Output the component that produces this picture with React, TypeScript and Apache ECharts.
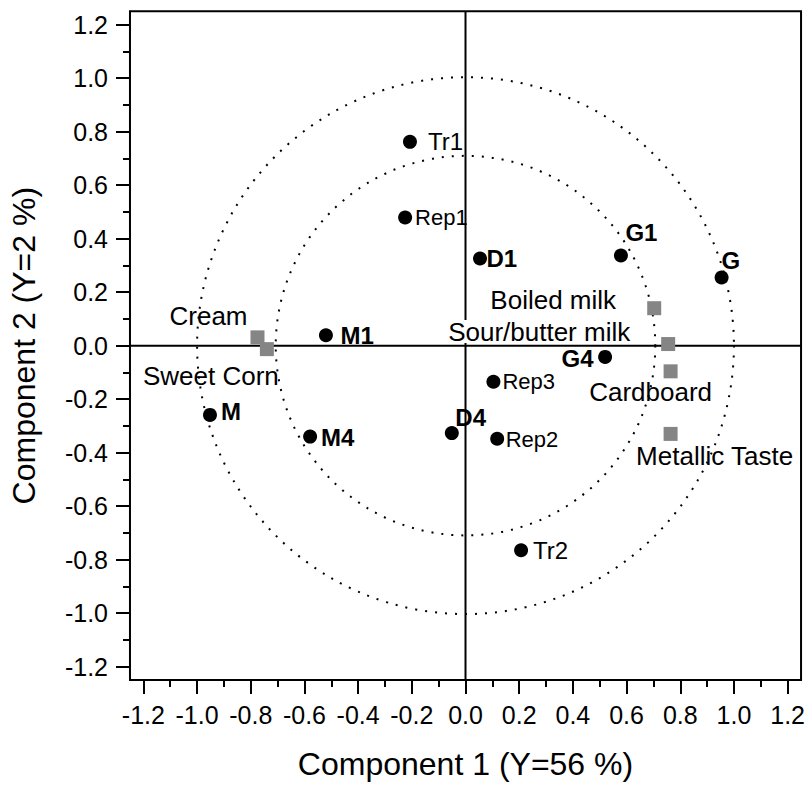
import React, { useEffect, useRef } from "react";
import * as echarts from "echarts";

// ---- Data ----
const sampleNames = ["Tr1", "Rep1", "D1", "G1", "G", "M1", "G4", "Rep3", "Rep2", "D4", "M", "M4", "Tr2"];
const sampleX = [-0.207, -0.225, 0.054, 0.579, 0.954, -0.52, 0.52, 0.104, 0.118, -0.051, -0.952, -0.579, 0.207];
const sampleY = [0.762, 0.479, 0.326, 0.337, 0.255, 0.039, -0.042, -0.135, -0.348, -0.327, -0.259, -0.34, -0.765];
const boldNames = ["D1", "G1", "G", "M1", "G4", "D4", "M", "M4"];

const attributeNames = ["Cream", "Sweet Corn", "Boiled milk", "Sour/butter milk", "Cardboard", "Metallic Taste"];
const attributeX = [-0.775, -0.74, 0.703, 0.755, 0.764, 0.764];
const attributeY = [0.031, -0.013, 0.14, 0.006, -0.096, -0.33];

const circleRadii = [1, 0.707];

const AXIS_MIN = -1.2;
const AXIS_MAX = 1.2;
const TICK_STEP = 0.2;
const FRAME_MIN = -1.25;
const FRAME_MAX = 1.25;

const xTitle = "Component 1 (Y=56 %)";
const yTitle = "Component 2 (Y=2 %)";

// ---- Label placement (pixel offsets from the marker centre) ----
const sampleLabelLayout: Record<string, [number, number, string]> = {
  Tr1: [18, 0, "left"],
  Rep1: [10, 0, "left"],
  D1: [6.5, 0, "left"],
  G1: [4.5, -23, "left"],
  G: [0, -17, "left"],
  M1: [14.5, 0, "left"],
  G4: [-11.5, 2, "right"],
  Rep3: [9, 0, "left"],
  Rep2: [8.5, 1, "left"],
  D4: [3.5, -16, "left"],
  M: [11, -3, "left"],
  M4: [11, 1, "left"],
  Tr2: [12, 0, "left"],
};
const attributeLabelLayout: Record<string, [number, number]> = {
  Cream: [-49, -21],
  "Sweet Corn": [-56, 27],
  "Boiled milk": [-101, -8],
  "Sour/butter milk": [-129, -12.5],
  Cardboard: [-20, 21],
  "Metallic Taste": [44, 22],
};

const FONT = "'Liberation Sans', Arial, Helvetica, sans-serif";
const DOT = 14;

export default function App() {
  const ref = useRef<HTMLDivElement>(null);
  useEffect(() => {
    if (!ref.current) return;
    const chart = echarts.init(ref.current, null, { renderer: "svg" });

    const sampleData = sampleNames.map((n, i) => {
      const [dx, dy, align] = sampleLabelLayout[n];
      const bold = boldNames.includes(n);
      return {
        name: n,
        value: [sampleX[i], sampleY[i]],
        label: {
          show: true,
          formatter: n,
          position: [DOT / 2 + dx, DOT / 2 + dy],
          align,
          verticalAlign: "middle",
          fontSize: n.startsWith("Rep") ? 22 : 24,
          fontWeight: bold ? "bold" : "normal",
          color: "#000",
          fontFamily: FONT,
        },
      };
    });

    const attributeData = attributeNames.map((n, i) => {
      const [dx, dy] = attributeLabelLayout[n];
      return {
        name: n,
        value: [attributeX[i], attributeY[i]],
        label: {
          show: true,
          formatter: n,
          position: [DOT / 2 + dx, DOT / 2 + dy],
          align: "center",
          verticalAlign: "middle",
          fontSize: 26,
          lineHeight: 23,
          color: "#000",
          fontFamily: FONT,
          backgroundColor: n === "Sour/butter milk" ? "#fff" : "transparent",
          padding: 0,
        },
      };
    });

    const axisCommon = {
      type: "value",
      min: AXIS_MIN,
      max: AXIS_MAX,
      interval: TICK_STEP,
      offset: 13.4,
      axisLine: { show: false, onZero: false },
      axisTick: { show: true, inside: false, length: 14, lineStyle: { color: "#000", width: 2 } },
      minorTick: { show: true, splitNumber: 2, length: 7, lineStyle: { color: "#000", width: 2 } },
      splitLine: { show: false },
      minorSplitLine: { show: false },
      nameLocation: "middle",
      nameTextStyle: { fontSize: 32, color: "#000", fontFamily: FONT },
    };

    const tickLabel = {
      fontSize: 25,
      color: "#000",
      margin: 22,
      fontFamily: FONT,
      formatter: (v: number) => v.toFixed(1),
    };

    chart.setOption({
      animation: false,
      backgroundColor: "#fff",
      textStyle: { fontFamily: FONT },
      grid: { left: 143.4, top: 24.7, width: 645.2, height: 645 },
      xAxis: { ...axisCommon, position: "bottom", name: xTitle, nameGap: 68, axisLabel: tickLabel },
      yAxis: { ...axisCommon, position: "left", name: yTitle, nameGap: 90, axisLabel: tickLabel },
      series: [
        {
          type: "custom",
          name: "frame",
          z: 1,
          silent: true,
          data: [[FRAME_MIN, FRAME_MAX, FRAME_MAX, FRAME_MIN]],
          renderItem: (_p: any, api: any) => {
            const a = api.coord([api.value(0), api.value(1)]);
            const b = api.coord([api.value(2), api.value(3)]);
            return {
              type: "rect",
              shape: { x: a[0], y: a[1], width: b[0] - a[0], height: b[1] - a[1] },
              style: { fill: "none", stroke: "#000", lineWidth: 2 },
            };
          },
        },
        {
          type: "custom",
          name: "zero lines",
          z: 1,
          silent: true,
          data: [
            [FRAME_MIN, 0, FRAME_MAX, 0],
            [0, FRAME_MIN, 0, FRAME_MAX],
          ],
          renderItem: (_p: any, api: any) => {
            const a = api.coord([api.value(0), api.value(1)]);
            const b = api.coord([api.value(2), api.value(3)]);
            return {
              type: "line",
              shape: { x1: a[0], y1: a[1], x2: b[0], y2: b[1] },
              style: { stroke: "#000", lineWidth: 2 },
            };
          },
        },
        {
          type: "custom",
          name: "correlation circles",
          z: 1,
          silent: true,
          data: circleRadii.map((r) => [0, 0, r]),
          renderItem: (_p: any, api: any) => {
            const c = api.coord([api.value(0), api.value(1)]);
            const r = api.size([api.value(2), 0])[0];
            return {
              type: "circle",
              shape: { cx: c[0], cy: c[1], r },
              style: { fill: "none", stroke: "#000", lineWidth: 2, lineDash: [2, 8] },
            };
          },
        },
        {
          type: "scatter",
          name: "attributes",
          z: 5,
          symbol: "rect",
          symbolSize: DOT,
          itemStyle: { color: "#858585", opacity: 1 },
          data: attributeData,
        },
        {
          type: "scatter",
          name: "samples",
          z: 5,
          symbol: "circle",
          symbolSize: DOT,
          itemStyle: { color: "#000", opacity: 1 },
          data: sampleData,
        },
      ],
    });
    return () => chart.dispose();
  }, []);

  return (
    <div
      ref={ref}
      style={{ position: "fixed", left: 0, top: 0, width: 808, height: 785, background: "#fff" }}
    />
  );
}
